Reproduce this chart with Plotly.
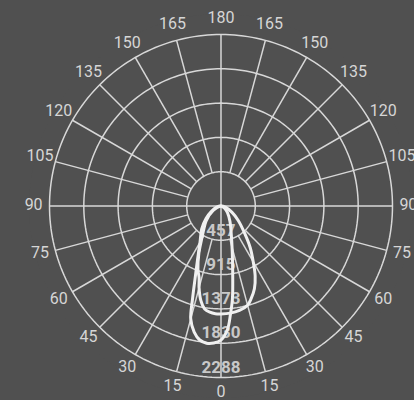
import numpy as np
import plotly.graph_objects as go

# photometric curves: gamma angle (deg, negative = left half) and intensity (cd)
gamma_a = [-90, -60, -45, -35, -30, -25, -20, -17, -15, -12, -9, -6, -3, 0,
           5, 10, 15, 18, 22, 26, 30, 35, 41, 50, 60, 75, 90]
intensity_a = [0, 120, 280, 410, 520, 700, 900, 1000, 1130, 1290, 1390, 1425, 1440, 1441,
               1435, 1415, 1370, 1300, 1190, 1040, 860, 680, 480, 300, 170, 60, 0]

gamma_b = [-90, -75, -60, -50, -40, -30, -25, -20, -17, -15, -12, -9, -6, -3, 0,
           3, 5, 7, 10, 14, 20, 30, 45, 60, 90]
intensity_b = [0, 60, 150, 260, 400, 560, 720, 1000, 1300, 1560, 1720, 1810, 1840, 1830, 1790,
               1650, 1450, 1250, 900, 620, 400, 240, 120, 50, 0]

ring_values = [457.6, 915.2, 1372.8, 1830.4, 2288]
ring_labels = ["457", "915", "1373", "1830", "2288"]
angle_ticks = list(range(-165, 181, 15))

BG = "#505050"
GRID = "#d8d8d8"
FONT = "Roboto"
r_max = ring_values[-1]

fig = go.Figure()

# rings
for rv in ring_values:
    th = np.linspace(0, 360, 241)
    fig.add_trace(go.Scatterpolar(r=[rv] * len(th), theta=th, mode="lines",
                                  line=dict(color=GRID, width=1.5), hoverinfo="skip"))

# spokes every 15 deg; only the main axes reach the centre
sr, st = [], []
for a in range(0, 360, 15):
    r0 = 0 if a % 90 == 0 else ring_values[0]
    sr += [r0, r_max, None]
    st += [a, a, None]
fig.add_trace(go.Scatterpolar(r=sr, theta=st, mode="lines",
                              line=dict(color=GRID, width=1.5), hoverinfo="skip"))

# angle labels
fig.add_trace(go.Scatterpolar(
    r=[2500] * len(angle_ticks), theta=angle_ticks, mode="text",
    text=[str(abs(a)) for a in angle_ticks], cliponaxis=False,
    textfont=dict(family=FONT, size=16, color="#d6d6d6"), hoverinfo="skip"))

# intensity labels
fig.add_trace(go.Scatterpolar(
    r=[v - 120 for v in ring_values], theta=[0] * len(ring_values), mode="text",
    text=ring_labels, cliponaxis=False,
    textfont=dict(family=FONT, size=17, color="#c8c8c8", weight="bold"), hoverinfo="skip"))

# curves
for g, i in [(gamma_a, intensity_a), (gamma_b, intensity_b)]:
    fig.add_trace(go.Scatterpolar(r=i, theta=g, mode="lines", hoverinfo="skip",
                                  line=dict(color="#f0f0f0", width=3, shape="spline")))

R = 2560
fig.update_layout(
    width=414, height=400, margin=dict(l=0, r=0, t=0, b=0),
    paper_bgcolor=BG, showlegend=False,
    polar=dict(
        bgcolor=BG,
        domain=dict(x=[0.0703, 0.9973], y=[0.0053, 0.9647]),
        radialaxis=dict(visible=False, range=[0, R]),
        angularaxis=dict(visible=False, rotation=-90, direction="counterclockwise"),
    ),
)

fig.write_html("out.html", config={"displayModeBar": False},
               post_script="document.body.style.margin='0';"
                           "document.body.style.background='" + BG + "';")
